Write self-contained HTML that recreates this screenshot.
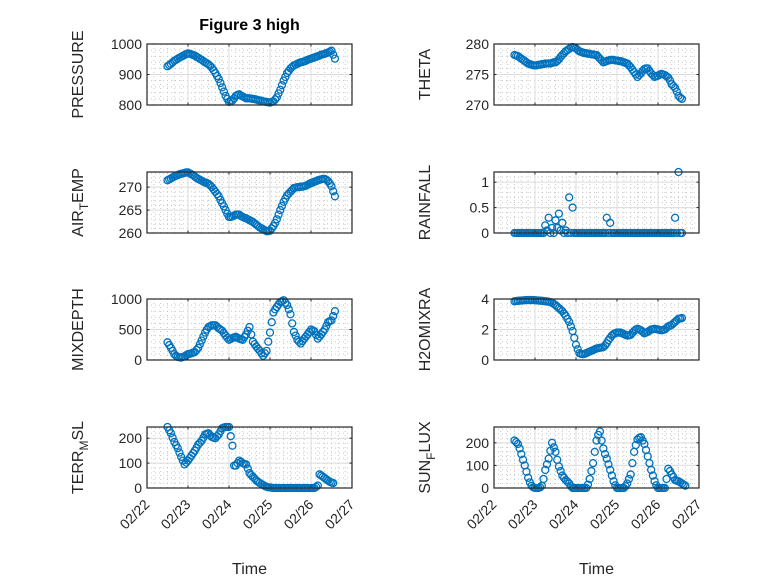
<!DOCTYPE html>
<html><head><meta charset="utf-8"><style>
html,body{margin:0;padding:0;background:#fff;}
svg{display:block;font-family:"Liberation Sans",Arial,sans-serif;}
</style></head><body>
<svg id="fig" width="778" height="583" viewBox="0 0 778 583" xmlns="http://www.w3.org/2000/svg">
<rect width="778" height="583" fill="#fff"/>
</svg>
<script>
// time grid: day offset from 02/22, hourly samples
const tStart = 0.5;
const tStep = 1/24;
const xTickLabels = ["02/22","02/23","02/24","02/25","02/26","02/27"];
const pressure = [927,931,935,940,945,948,952,955,958,961,964,967,969,968,966,964,962,958,955,951,948,944,940,937,933,928,922,914,905,895,885,872,858,844,830,820,810,812,815,822,830,833,835,831,828,825,822,822,822,821,820,819,818,816,815,814,812,811,810,809,808,810,812,818,825,838,850,865,880,892,905,912,920,925,930,932,935,938,940,941,943,945,948,950,952,954,956,958,960,962,965,966,968,970,972,975,978,965,952];
const theta = [278.2,278.1,278.0,277.8,277.6,277.4,277.2,277.0,276.8,276.7,276.6,276.5,276.5,276.5,276.6,276.6,276.7,276.7,276.8,276.8,276.8,276.8,276.9,277.0,277.0,277.2,277.5,277.9,278.2,278.5,278.8,279.0,279.2,279.4,279.5,279.4,279.3,279.0,278.8,278.7,278.6,278.5,278.5,278.4,278.4,278.3,278.3,278.2,278.2,277.9,277.6,277.3,277.0,277.1,277.2,277.3,277.4,277.4,277.4,277.3,277.3,277.2,277.2,277.1,277.0,276.9,276.8,276.5,276.2,275.8,275.4,275.0,274.6,274.9,275.2,275.6,275.9,276.0,276.0,275.6,275.2,274.9,274.6,274.7,274.8,275.0,275.1,275.0,274.9,274.7,274.5,274.0,273.4,273.1,272.8,272.2,271.5,271.2,271.0];
const airTemp = [271.5,271.7,271.9,272.1,272.3,272.5,272.6,272.8,272.9,273.0,273.1,273.2,273.2,273.0,272.8,272.6,272.3,272.0,271.8,271.6,271.4,271.2,271.0,270.9,270.7,270.4,270.0,269.5,269.0,268.5,268.0,267.2,266.5,265.8,265.0,264.2,263.5,263.5,263.6,263.8,264.0,264.0,264.0,263.7,263.5,263.3,263.2,263.0,262.8,262.6,262.4,262.1,261.8,261.5,261.2,261.0,260.8,260.6,260.4,260.4,260.5,261.0,261.5,262.2,263.0,264.0,265.0,265.9,266.8,267.5,268.2,268.6,269.0,269.4,269.8,269.9,270.0,270.0,270.1,270.1,270.2,270.3,270.5,270.7,270.9,271.0,271.2,271.3,271.5,271.6,271.7,271.8,271.8,271.6,271.3,270.8,270.2,269.1,268.0];
const rainfall = [0,0,0,0,0,0,0,0,0,0,0,0,0,0,0,0,0,0,0.15,0.05,0.3,0,0.1,0,0.25,0.1,0.38,0.05,0.2,0,0.05,0,0.7,0,0.5,0,0,0,0,0,0,0,0,0,0,0,0,0,0,0,0,0,0,0,0.3,0,0.2,0,0,0,0,0,0,0,0,0,0,0,0,0,0,0,0,0,0,0,0,0,0,0,0,0,0,0,0,0,0,0,0,0,0,0,0,0,0.3,0,1.2,0,0];
const mixDepth = [290,245,200,150,95,70,50,45,40,50,60,80,95,100,110,120,130,165,200,260,320,385,450,500,540,555,570,570,570,545,520,500,480,440,400,365,330,345,360,370,380,365,350,340,330,375,420,480,540,420,300,260,220,185,150,110,70,110,150,300,450,620,780,830,870,910,950,965,980,940,900,830,750,600,460,400,330,300,270,310,350,385,420,460,500,485,470,410,350,385,420,460,500,560,620,635,650,720,800];
const h2oMix = [3.85,3.87,3.88,3.89,3.9,3.91,3.92,3.93,3.93,3.93,3.93,3.93,3.92,3.91,3.9,3.89,3.88,3.87,3.85,3.84,3.82,3.79,3.75,3.68,3.6,3.5,3.4,3.3,3.2,3.05,2.9,2.7,2.5,2.2,1.9,1.45,1.0,0.7,0.45,0.4,0.38,0.4,0.45,0.5,0.55,0.6,0.65,0.7,0.75,0.78,0.8,0.82,0.85,0.95,1.1,1.3,1.45,1.6,1.7,1.75,1.8,1.8,1.8,1.75,1.7,1.65,1.6,1.62,1.65,1.78,1.9,2.0,2.05,2.0,1.95,1.85,1.75,1.8,1.85,1.92,2.0,2.02,2.05,2.02,2.0,1.97,1.95,1.97,2.0,2.1,2.2,2.25,2.3,2.4,2.5,2.6,2.7,2.72,2.75];
const terrMsl = [245,232,220,202,185,172,160,142,125,110,95,102,110,120,130,140,150,162,175,182,190,202,215,218,220,212,205,202,200,208,215,228,240,243,245,245,245,208,170,90,90,100,110,105,100,97,95,78,60,52,45,38,30,25,20,16,12,8,5,3,2,1,0,0,0,0,0,0,0,0,0,0,0,0,0,0,0,0,0,0,0,0,0,0,0,0,0,5,10,55,50,45,40,35,30,25,22,20];
const sunFlux = [210,203,195,175,150,125,100,72,45,25,10,3,0,0,0,3,10,40,80,105,130,165,200,180,160,125,95,75,55,45,35,28,20,8,0,0,0,0,0,0,0,0,0,15,40,75,110,160,210,235,250,210,175,150,130,105,80,55,30,12,0,0,0,0,0,8,20,40,60,110,160,190,215,222,225,210,195,168,140,110,80,55,30,12,0,0,0,0,0,40,85,75,60,48,35,32,30,25,20,15,10];

const NS="http://www.w3.org/2000/svg";
const svg=document.getElementById('fig');
function mk(tag,attrs,parent){const e=document.createElementNS(NS,tag);for(const k in attrs)e.setAttribute(k,attrs[k]);(parent||svg).appendChild(e);return e;}

const panels=[
 {name:'pressure',data:pressure,x0:147,y0:44,ylim:[800,1000],yt:[800,900,1000],lab:['PRESSURE']},
 {name:'theta',data:theta,x0:494,y0:44,ylim:[270,280],yt:[270,275,280],lab:['THETA']},
 {name:'air-temp',data:airTemp,x0:147,y0:172,ylim:[260,273.3],yt:[260,265,270],lab:['AIR','T','EMP']},
 {name:'rainfall',data:rainfall,x0:494,y0:172,ylim:[0,1.2],yt:[0,0.5,1],lab:['RAINFALL']},
 {name:'mixdepth',data:mixDepth,x0:147,y0:299,ylim:[0,1000],yt:[0,500,1000],lab:['MIXDEPTH']},
 {name:'h2omixra',data:h2oMix,x0:494,y0:299,ylim:[0,4],yt:[0,2,4],lab:['H2OMIXRA']},
 {name:'terr-msl',data:terrMsl,x0:147,y0:427,ylim:[0,245],yt:[0,100,200],lab:['TERR','M','SL']},
 {name:'sun-flux',data:sunFlux,x0:494,y0:427,ylim:[0,270],yt:[0,100,200],lab:['SUN','F','LUX']}
];
const W=205,H=61;

panels.forEach((p,pi)=>{
  const g=mk('g',{});
  
  
  const xs=t=>p.x0+t*W/5;
  const ys=v=>p.y0+H-(v-p.ylim[0])/(p.ylim[1]-p.ylim[0])*H;
  for(let d=0;d<5;d++)for(let k=1;k<6;k++){const x=xs(d+k/6);mk('line',{x1:x,x2:x,y1:p.y0,y2:p.y0+H,stroke:'#c8c8c8','stroke-width':1,'stroke-dasharray':'1,3'},g);}
  const ystep=p.yt[1]-p.yt[0];
  for(let v=p.ylim[0];v<p.ylim[1];v+=ystep/5){const y=ys(v);if(y<p.y0)break;mk('line',{x1:p.x0,x2:p.x0+W,y1:y,y2:y,stroke:'#c8c8c8','stroke-width':1,'stroke-dasharray':'1,3'},g);}
  for(let d=1;d<5;d++){const x=xs(d);mk('line',{x1:x,x2:x,y1:p.y0,y2:p.y0+H,stroke:'#dcdcdc','stroke-width':1},g);}
  p.yt.forEach(v=>{const y=ys(v);mk('line',{x1:p.x0,x2:p.x0+W,y1:y,y2:y,stroke:'#dcdcdc','stroke-width':1},g);});
  p.data.forEach((v,i)=>{
    const c=mk('circle',{cx:xs(tStart+i*tStep),cy:ys(v),r:3.5,fill:'none',stroke:'#0072BD','stroke-width':1.3},g);
    
    
  });
  mk('rect',{x:p.x0,y:p.y0,width:W,height:H,fill:'none',stroke:'#262626','stroke-width':1.2},g);
  for(let d=0;d<=5;d++){const x=xs(d);mk('line',{x1:x,x2:x,y1:p.y0+H,y2:p.y0+H-2.5,stroke:'#262626'},g);mk('line',{x1:x,x2:x,y1:p.y0,y2:p.y0+2.5,stroke:'#262626'},g);}
  p.yt.forEach(v=>{const y=ys(v);mk('line',{x1:p.x0,x2:p.x0+2.5,y1:y,y2:y,stroke:'#262626'},g);mk('line',{x1:p.x0+W,x2:p.x0+W-2.5,y1:y,y2:y,stroke:'#262626'},g);
    const tx=mk('text',{x:p.x0-5,y:y+5,'text-anchor':'end','font-size':14,fill:'#262626'},g);tx.textContent=String(v);
    
    
  });
  const lx=p.x0-70, ly=p.y0+H/2;
  const yl=mk('text',{x:0,y:0,transform:`translate(${lx+6},${ly}) rotate(-90)`,'text-anchor':'middle','font-size':16,fill:'#262626'},g);
  
  
  if(p.lab.length===1){yl.textContent=p.lab[0];}
  else{
    const a=mk('tspan',{},yl);a.textContent=p.lab[0];
    const b=mk('tspan',{dy:5,'font-size':12},yl);b.textContent=p.lab[1];
    const c=mk('tspan',{dy:-5},yl);c.textContent=p.lab[2];
  }
  if(pi>=6){
    xTickLabels.forEach((s,d)=>{const x=xs(d),y=p.y0+H+10;
      const tx=mk('text',{x:0,y:0,transform:`translate(${x-4},${y}) rotate(-45)`,'text-anchor':'end','font-size':14,fill:'#262626','dominant-baseline':'hanging'},g);
      tx.textContent=s;
      
      
    });
    const xt=mk('text',{x:p.x0+W/2,y:574,'text-anchor':'middle','font-size':16,fill:'#262626'},g);
    xt.textContent='Time';
    
    
  }
});
const title=mk('text',{x:249.5,y:30,'text-anchor':'middle','font-size':16,'font-weight':'bold',fill:'#000'});
title.textContent='Figure 3 high';


</script>
</body></html>
